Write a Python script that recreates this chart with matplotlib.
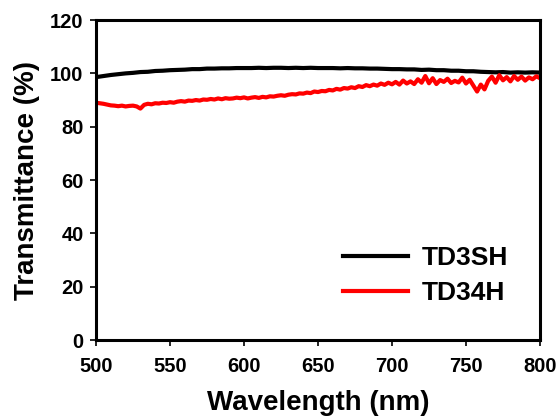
import numpy as np
import matplotlib.pyplot as plt

plt.rcParams["font.family"] = ["Liberation Sans", "DejaVu Sans"]
plt.rcParams["font.weight"] = "bold"

# -----------------------------
# Data
# -----------------------------
wl_black = np.arange(500, 800.1, 5)
td3sh = [
    98.6, 99.0, 99.4, 99.7, 100.0, 100.2, 100.5, 100.6, 100.9, 101.0,
    101.2, 101.3, 101.4, 101.6, 101.6, 101.8, 101.8, 101.9, 101.9, 102.0,
    102.0, 102.0, 102.1, 102.0, 102.1, 102.1, 102.0, 102.1, 102.0, 102.1,
    102.0, 102.0, 102.0, 101.9, 102.0, 101.9, 101.9, 101.8, 101.8, 101.7,
    101.6, 101.6, 101.5, 101.5, 101.3, 101.4, 101.2, 101.2, 101.0, 101.0,
    100.8, 100.8, 100.6, 100.5, 100.4, 100.5, 100.3, 100.4, 100.3, 100.4,
    100.3,
]

wl_red = np.arange(500, 800.1, 2.5)
td34h = [
    89.0, 88.8, 88.6, 88.3, 88.0, 87.9, 87.7, 87.9, 87.6, 87.8,
    87.9, 87.6, 86.8, 88.2, 88.6, 88.4, 88.8, 88.7, 89.0, 88.9,
    89.2, 89.0, 89.4, 89.6, 89.4, 89.8, 89.7, 90.0, 89.8, 90.2,
    90.1, 90.4, 90.2, 90.6, 90.3, 90.7, 90.5, 90.6, 90.9, 90.7,
    91.0, 90.6, 90.9, 91.1, 90.8, 91.2, 91.0, 91.4, 91.3, 91.6,
    91.8, 91.6, 92.0, 92.2, 92.1, 92.5, 92.4, 92.8, 92.6, 93.2,
    93.0, 93.4, 93.3, 93.8, 93.6, 94.2, 93.9, 94.5, 94.3, 94.8,
    94.5, 95.2, 94.9, 95.6, 95.2, 95.8, 95.4, 96.2, 95.7, 96.5,
    95.9, 96.8, 95.8, 97.3, 96.2, 97.0, 96.0, 97.8, 96.5, 99.0,
    96.3, 98.2, 96.0, 97.5, 96.8, 98.0, 96.4, 97.2, 96.6, 98.4,
    96.2, 97.6, 95.4, 93.2, 95.8, 94.0, 97.2, 98.8, 96.5, 99.3,
    97.4, 98.6, 97.0, 99.0, 97.6, 98.8, 97.3, 98.5, 97.8, 98.9,
    98.2,
]

x_ticks = [500, 550, 600, 650, 700, 750, 800]
y_ticks = [0, 20, 40, 60, 80, 100, 120]

# -----------------------------
# Plot
# -----------------------------
fig = plt.figure(figsize=(5.56, 4.18), dpi=100)
ax = fig.add_axes([0.1727, 0.1866, 0.7985, 0.7654])

ax.plot(wl_black, td3sh, color="black", lw=3.0, label="TD3SH")
ax.plot(wl_red, td34h, color="#ff0000", lw=3.0, label="TD34H")

ax.set_xlim(500, 800)
ax.set_ylim(0, 120)
ax.set_xticks(x_ticks)
ax.set_yticks(y_ticks)
ax.tick_params(direction="out", length=4, width=1.2, labelsize=14.5)
ax.tick_params(axis="x", pad=8)
ax.tick_params(axis="y", pad=5)

for s in ax.spines.values():
    s.set_linewidth(2.2)

ax.set_xlabel("Wavelength (nm)", fontsize=20, fontweight="bold", labelpad=10)
ax.set_ylabel("Transmittance (%)", fontsize=20, fontweight="bold", labelpad=7)

ax.legend(
    loc="upper left",
    bbox_to_anchor=(0.556, 0.293),
    frameon=False,
    fontsize=19,
    handlelength=2.45,
    handletextpad=0.55,
    labelspacing=0.4,
    borderpad=0,
    borderaxespad=0,
)

plt.savefig("out.png", dpi=100)
